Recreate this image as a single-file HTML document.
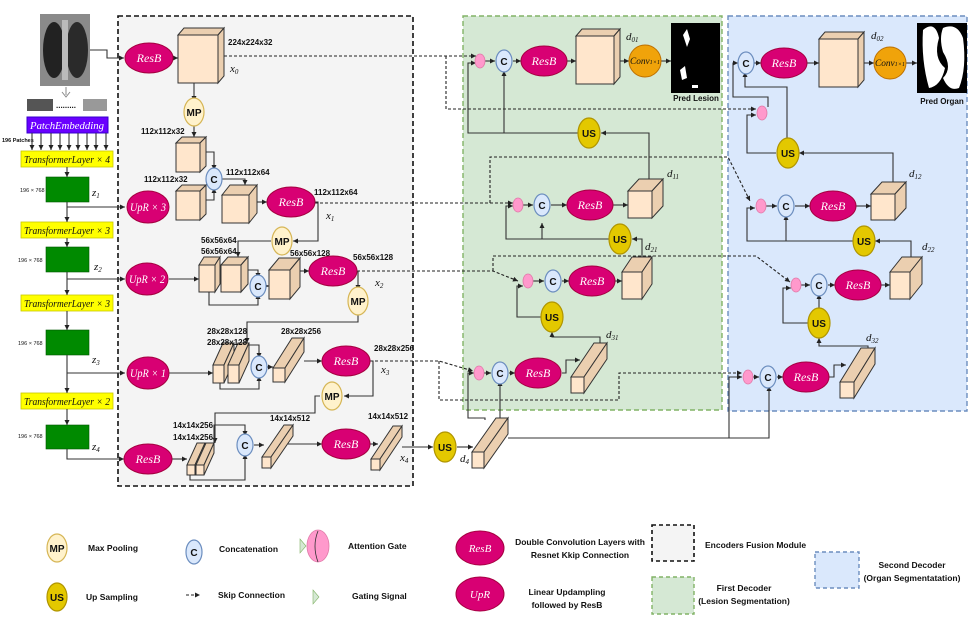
<!DOCTYPE html>
<html><head><meta charset="utf-8"><style>
body{margin:0;background:#fff}
svg{display:block}
.l{stroke:#333;stroke-width:1.1;fill:none;marker-end:url(#a)}
.n{stroke:#333;stroke-width:1.1;fill:none}
.d{stroke:#222;stroke-width:1.1;fill:none;stroke-dasharray:3,2;marker-end:url(#a)}
.rb{fill:#d80073;stroke:#a50040;stroke-width:1}
.mp{fill:#fff2cc;stroke:#d6b656;stroke-width:1.2}
.us{fill:#e3c800;stroke:#b09500;stroke-width:1.2}
.c{fill:#dae8fc;stroke:#6c8ebf;stroke-width:1.2}
.ag{fill:#ff99cc;stroke:#e07aa8;stroke-width:0.8}
.cf{fill:#ffe6cc;stroke:#333;stroke-width:1}
.cs{fill:#ebcfb0;stroke:#333;stroke-width:1}
.tm{font-family:"Liberation Serif",serif;font-style:italic;fill:#fff;font-size:12px}
.tb{font-family:"Liberation Sans",sans-serif;font-weight:bold;font-size:10px;fill:#111}
.ts{font-family:"Liberation Sans",sans-serif;font-weight:bold;font-size:8px;fill:#111}
.tl{font-family:"Liberation Sans",sans-serif;font-weight:bold;font-size:8.5px;fill:#111}
.tx{font-family:"Liberation Serif",serif;font-style:italic;font-size:10px;fill:#111}
.ty{font-family:"Liberation Serif",serif;font-style:italic;font-size:11px;fill:#111}
.g{fill:#008a00;stroke:#005700;stroke-width:0.6}
.yl{fill:#ffff00;stroke:#c8c800;stroke-width:0.8}
</style></head><body>
<svg width="969" height="637" viewBox="0 0 969 637" xmlns="http://www.w3.org/2000/svg">
<defs><marker id="a" markerWidth="6" markerHeight="6" refX="5" refY="3" orient="auto" markerUnits="userSpaceOnUse"><path d="M0,0.5 L5,3 L0,5.5z" fill="#222"/></marker></defs>

<rect x="118" y="16" width="295" height="470" fill="#f4f4f4" stroke="#111" stroke-width="1.6" stroke-dasharray="5,3"/>
<rect x="463" y="16" width="259" height="394" fill="#d5e8d4" stroke="#82b366" stroke-width="1.4" stroke-dasharray="5,3"/>
<rect x="728" y="16" width="239" height="395" fill="#dae8fc" stroke="#6c8ebf" stroke-width="1.4" stroke-dasharray="5,3"/>

<rect x="40" y="14" width="50" height="72" fill="#8a8a8a"/>
<ellipse cx="54" cy="50" rx="11" ry="28" fill="#222"/><ellipse cx="77" cy="50" rx="11" ry="28" fill="#2a2a2a"/>
<rect x="62" y="20" width="6" height="60" fill="#bbb"/>
<path d="M66,87 v8 M62,92 l4,5 l4,-5" stroke="#888" fill="none"/>
<rect x="27" y="99" width="26" height="12" fill="#555"/><rect x="83" y="99" width="24" height="12" fill="#999"/>
<text x="56" y="108" class="ts">.........</text>
<rect x="27" y="117" width="81" height="16" fill="#6a00ff" stroke="#3700cc"/>
<text x="67" y="129" text-anchor="middle" class="tm" style="font-size:11px" textLength="74" lengthAdjust="spacingAndGlyphs">PatchEmbedding</text>
<text x="2" y="142" class="ts" style="font-size:5.5px">196 Patches</text>
<g class="l"><path d="M32,133v17"/><path d="M41,133v17"/><path d="M51,133v17"/><path d="M60,133v17"/><path d="M69,133v17"/><path d="M78,133v17"/><path d="M87,133v17"/><path d="M96,133v17"/><path d="M106,133v17"/></g>
<rect x="21" y="151" width="92" height="16" class="yl"/><text x="67" y="163" text-anchor="middle" class="tx" textLength="86" lengthAdjust="spacingAndGlyphs">TransformerLayer × 4</text>
<rect x="21" y="222" width="92" height="16" class="yl"/><text x="67" y="234" text-anchor="middle" class="tx" textLength="86" lengthAdjust="spacingAndGlyphs">TransformerLayer × 3</text>
<rect x="21" y="295" width="92" height="16" class="yl"/><text x="67" y="307" text-anchor="middle" class="tx" textLength="86" lengthAdjust="spacingAndGlyphs">TransformerLayer × 3</text>
<rect x="21" y="393" width="92" height="16" class="yl"/><text x="67" y="405" text-anchor="middle" class="tx" textLength="86" lengthAdjust="spacingAndGlyphs">TransformerLayer × 2</text>
<rect x="46" y="177" width="43" height="25" class="g"/><rect x="46" y="247" width="43" height="25" class="g"/>
<rect x="46" y="330" width="43" height="25" class="g"/><rect x="46" y="425" width="43" height="24" class="g"/>
<g class="ts" style="font-size:5.5px;font-weight:normal"><text x="20" y="192">196 × 768</text><text x="18" y="262">196 × 768</text><text x="18" y="345">196 × 768</text><text x="18" y="438">196 × 768</text></g>
<g class="ty"><text x="92" y="196">z<tspan font-size="7" dy="2">1</tspan></text><text x="94" y="270">z<tspan font-size="7" dy="2">2</tspan></text><text x="92" y="363">z<tspan font-size="7" dy="2">3</tspan></text><text x="92" y="450">z<tspan font-size="7" dy="2">4</tspan></text></g>
<g class="l"><path d="M67,167v10"/><path d="M67,202v20"/><path d="M67,238v9"/><path d="M67,272v23"/><path d="M67,311v19"/><path d="M67,355v38"/><path d="M67,409v16"/>
<path d="M67,207h58"/><path d="M67,279h58"/><path d="M67,373h58"/><path d="M67,449v10h57"/></g>

<g class="l"><path d="M90,50h17v8h17"/><path d="M173,58h5"/><path d="M194,83v18"/><path d="M194,123v14"/>
<path d="M206,152h8v18"/><path d="M206,200h8v-12"/><path d="M222,179h23v6"/><path d="M257,202h10"/>
<path d="M315,202h3v39h-25"/><path d="M271,241h-33v16"/><path d="M169,279h30"/><path d="M248,270h10v8"/><path d="M209,292v13h49v-11"/>
<path d="M266,286h3"/><path d="M300,271h9"/><path d="M358,271v19"/><path d="M358,312v10h-111v21"/>
<path d="M169,373h44"/><path d="M249,345h10v13"/><path d="M220,383v6h39v-13"/><path d="M267,367h6"/><path d="M304,361h18"/>
<path d="M370,361h3v35h-29"/><path d="M320,396h-5v17h-100v30"/><path d="M172,459h15"/><path d="M214,443v-18h31v11"/><path d="M190,475v5h55v-26"/>
<path d="M254,445h10"/><path d="M288,444h34"/><path d="M370,444h8"/><path d="M402,447h31"/><path d="M457,447h16"/></g>

<g class="d"><path d="M224,56h252"/><path d="M446,56v53h310"/>
<path d="M315,203h198"/><path d="M490,203v-46h238l22,44"/>
<path d="M357,271h136l25,10"/><path d="M493,271v-15h263l34,26"/>
<path d="M370,361h69l34,10"/><path d="M439,361v39h180v-27h123"/></g>

<g class="l">
<path d="M485,420v-2h-17v-45h6"/><path d="M500,418v-37"/><path d="M508,438h221v-61h13"/><path d="M729,438h40v-52"/>
<path d="M484,373h7"/><path d="M509,373h6"/><path d="M562,373h4v-13h14"/>
<path d="M600,343v-6h-48v-5"/><path d="M552,306v-4"/><path d="M541,317h-24v-31h6"/>
<path d="M528,281h16"/><path d="M562,281h7"/><path d="M615,281h7"/>
<path d="M642,257v-18h-10"/><path d="M609,239h-103v-33h7"/><path d="M542,239v-16"/>
<path d="M523,205h10"/><path d="M551,205h16"/><path d="M613,205h15"/>
<path d="M649,180v-47h-48"/><path d="M578,133h-110v-70h8"/><path d="M504,133v-62"/>
<path d="M485,61h10"/><path d="M513,61h8"/><path d="M567,61h9"/><path d="M620,61h9"/><path d="M661,61h10"/>
<path d="M753,377h6"/><path d="M777,377h6"/><path d="M829,377h5v-12h12"/>
<path d="M868,348v-2h-49v-8"/><path d="M819,312v-18"/><path d="M808,323h-25v-35h8"/>
<path d="M801,285h9"/><path d="M828,285h7"/><path d="M881,285h9"/>
<path d="M911,257v-16h-36"/><path d="M853,241h-106v-33h8"/><path d="M786,241v-26"/>
<path d="M766,206h11"/><path d="M795,206h15"/><path d="M856,206h15"/>
<path d="M893,182v-29h-94"/><path d="M776,153h-29v-38h9"/><path d="M787,142v-55h-42v-15"/>
<path d="M768,107v-10h-35v-34h5"/>
<path d="M754,63h7"/><path d="M807,63h12"/><path d="M864,63h10"/><path d="M906,63h11"/></g>

<g>
<rect x="178" y="35" width="40" height="48" class="cf"/><polygon points="178,35 184,28 224,28 218,35" class="cs"/><polygon points="218,35 224,28 224,76 218,83" class="cs"/>
<rect x="176" y="143" width="24" height="29" class="cf"/><polygon points="176,143 182,137 206,137 200,143" class="cs"/><polygon points="200,143 206,137 206,166 200,172" class="cs"/>
<rect x="176" y="191" width="24" height="29" class="cf"/><polygon points="176,191 182,185 206,185 200,191" class="cs"/><polygon points="200,191 206,185 206,214 200,220" class="cs"/>
<rect x="222" y="195" width="27" height="28" class="cf"/><polygon points="222,195 230,185 257,185 249,195" class="cs"/><polygon points="249,195 257,185 257,213 249,223" class="cs"/>
<rect x="199" y="265" width="16" height="27" class="cf"/><polygon points="199,265 204,257 220,257 215,265" class="cs"/><polygon points="215,265 220,257 220,284 215,292" class="cs"/>
<rect x="221" y="265" width="20" height="27" class="cf"/><polygon points="221,265 228,257 248,257 241,265" class="cs"/><polygon points="241,265 248,257 248,284 241,292" class="cs"/>
<rect x="269" y="270" width="21" height="29" class="cf"/><polygon points="269,270 279,258 300,258 290,270" class="cs"/><polygon points="290,270 300,258 300,287 290,299" class="cs"/>
<rect x="213" y="365" width="11" height="18" class="cf"/><polygon points="213,365 223,343 234,343 224,365" class="cs"/><polygon points="224,365 234,343 234,361 224,383" class="cs"/>
<rect x="228" y="365" width="11" height="18" class="cf"/><polygon points="228,365 238,343 249,343 239,365" class="cs"/><polygon points="239,365 249,343 249,361 239,383" class="cs"/>
<rect x="273" y="368" width="12" height="14" class="cf"/><polygon points="273,368 292,338 304,338 285,368" class="cs"/><polygon points="285,368 304,338 304,352 285,382" class="cs"/>
<rect x="187" y="465" width="8" height="10" class="cf"/><polygon points="187,465 197,443 205,443 195,465" class="cs"/><polygon points="195,465 205,443 205,453 195,475" class="cs"/>
<rect x="196" y="465" width="8" height="10" class="cf"/><polygon points="196,465 206,443 214,443 204,465" class="cs"/><polygon points="204,465 214,443 214,453 204,475" class="cs"/>
<rect x="262" y="457" width="9" height="11" class="cf"/><polygon points="262,457 284,425 293,425 271,457" class="cs"/><polygon points="271,457 293,425 293,436 271,468" class="cs"/>
<rect x="371" y="459" width="9" height="11" class="cf"/><polygon points="371,459 393,426 402,426 380,459" class="cs"/><polygon points="380,459 402,426 402,437 380,470" class="cs"/>
<rect x="472" y="452" width="12" height="16" class="cf"/><polygon points="472,452 496,418 508,418 484,452" class="cs"/><polygon points="484,452 508,418 508,434 484,468" class="cs"/>
<rect x="576" y="36" width="38" height="48" class="cf"/><polygon points="576,36 582,29 620,29 614,36" class="cs"/><polygon points="614,36 620,29 620,77 614,84" class="cs"/>
<rect x="628" y="191" width="24" height="27" class="cf"/><polygon points="628,191 639,179 663,179 652,191" class="cs"/><polygon points="652,191 663,179 663,206 652,218" class="cs"/>
<rect x="622" y="272" width="20" height="27" class="cf"/><polygon points="622,272 632,257 652,257 642,272" class="cs"/><polygon points="642,272 652,257 652,284 642,299" class="cs"/>
<rect x="571" y="377" width="13" height="16" class="cf"/><polygon points="571,377 594,343 607,343 584,377" class="cs"/><polygon points="584,377 607,343 607,359 584,393" class="cs"/>
<rect x="819" y="39" width="39" height="48" class="cf"/><polygon points="819,39 825,32 864,32 858,39" class="cs"/><polygon points="858,39 864,32 864,80 858,87" class="cs"/>
<rect x="871" y="194" width="24" height="26" class="cf"/><polygon points="871,194 882,182 906,182 895,194" class="cs"/><polygon points="895,194 906,182 906,208 895,220" class="cs"/>
<rect x="890" y="272" width="20" height="27" class="cf"/><polygon points="890,272 902,257 922,257 910,272" class="cs"/><polygon points="910,272 922,257 922,284 910,299" class="cs"/>
<rect x="840" y="382" width="14" height="16" class="cf"/><polygon points="840,382 861,348 875,348 854,382" class="cs"/><polygon points="854,382 875,348 875,364 854,398" class="cs"/>
</g>

<g>
<ellipse cx="149" cy="58" rx="24" ry="15" class="rb"/><text x="149" y="62" text-anchor="middle" class="tm">ResB</text>
<ellipse cx="148" cy="207" rx="21" ry="16" class="rb"/><text x="148" y="211" text-anchor="middle" class="tm" textLength="36" lengthAdjust="spacingAndGlyphs">UpR × 3</text>
<ellipse cx="147" cy="279" rx="21" ry="16" class="rb"/><text x="147" y="283" text-anchor="middle" class="tm" textLength="36" lengthAdjust="spacingAndGlyphs">UpR × 2</text>
<ellipse cx="148" cy="373" rx="21" ry="16" class="rb"/><text x="148" y="377" text-anchor="middle" class="tm" textLength="36" lengthAdjust="spacingAndGlyphs">UpR × 1</text>
<ellipse cx="148" cy="459" rx="24" ry="15" class="rb"/><text x="148" y="463" text-anchor="middle" class="tm">ResB</text>
<ellipse cx="291" cy="202" rx="24" ry="15" class="rb"/><text x="291" y="206" text-anchor="middle" class="tm">ResB</text>
<ellipse cx="333" cy="271" rx="24" ry="15" class="rb"/><text x="333" y="275" text-anchor="middle" class="tm">ResB</text>
<ellipse cx="346" cy="361" rx="24" ry="15" class="rb"/><text x="346" y="365" text-anchor="middle" class="tm">ResB</text>
<ellipse cx="346" cy="444" rx="24" ry="15" class="rb"/><text x="346" y="448" text-anchor="middle" class="tm">ResB</text>
<ellipse cx="544" cy="61" rx="23" ry="15" class="rb"/><text x="544" y="65" text-anchor="middle" class="tm">ResB</text>
<ellipse cx="590" cy="205" rx="23" ry="15" class="rb"/><text x="590" y="209" text-anchor="middle" class="tm">ResB</text>
<ellipse cx="592" cy="281" rx="23" ry="15" class="rb"/><text x="592" y="285" text-anchor="middle" class="tm">ResB</text>
<ellipse cx="538" cy="373" rx="23" ry="15" class="rb"/><text x="538" y="377" text-anchor="middle" class="tm">ResB</text>
<ellipse cx="784" cy="63" rx="23" ry="15" class="rb"/><text x="784" y="67" text-anchor="middle" class="tm">ResB</text>
<ellipse cx="833" cy="206" rx="23" ry="15" class="rb"/><text x="833" y="210" text-anchor="middle" class="tm">ResB</text>
<ellipse cx="858" cy="285" rx="23" ry="15" class="rb"/><text x="858" y="289" text-anchor="middle" class="tm">ResB</text>
<ellipse cx="806" cy="377" rx="23" ry="15" class="rb"/><text x="806" y="381" text-anchor="middle" class="tm">ResB</text>
</g>

<g class="tb" text-anchor="middle">
<ellipse cx="194" cy="112" rx="10" ry="14" class="mp"/><text x="194" y="116">MP</text>
<ellipse cx="282" cy="241" rx="10" ry="14" class="mp"/><text x="282" y="245">MP</text>
<ellipse cx="358" cy="301" rx="10" ry="14" class="mp"/><text x="358" y="305">MP</text>
<ellipse cx="332" cy="396" rx="10" ry="14" class="mp"/><text x="332" y="400">MP</text>
<ellipse cx="445" cy="447" rx="11" ry="15" class="us"/><text x="445" y="451">US</text>
<ellipse cx="589" cy="133" rx="11" ry="15" class="us"/><text x="589" y="137">US</text>
<ellipse cx="620" cy="239" rx="11" ry="15" class="us"/><text x="620" y="243">US</text>
<ellipse cx="552" cy="317" rx="11" ry="15" class="us"/><text x="552" y="321">US</text>
<ellipse cx="788" cy="153" rx="11" ry="15" class="us"/><text x="788" y="157">US</text>
<ellipse cx="864" cy="241" rx="11" ry="15" class="us"/><text x="864" y="245">US</text>
<ellipse cx="819" cy="323" rx="11" ry="15" class="us"/><text x="819" y="327">US</text>
<ellipse cx="214" cy="179" rx="8" ry="11" class="c"/><text x="214" y="183">C</text>
<ellipse cx="258" cy="286" rx="8" ry="11" class="c"/><text x="258" y="290">C</text>
<ellipse cx="259" cy="367" rx="8" ry="11" class="c"/><text x="259" y="371">C</text>
<ellipse cx="245" cy="445" rx="8" ry="11" class="c"/><text x="245" y="449">C</text>
<ellipse cx="504" cy="61" rx="8" ry="11" class="c"/><text x="504" y="65">C</text>
<ellipse cx="542" cy="205" rx="8" ry="11" class="c"/><text x="542" y="209">C</text>
<ellipse cx="553" cy="281" rx="8" ry="11" class="c"/><text x="553" y="285">C</text>
<ellipse cx="500" cy="373" rx="8" ry="11" class="c"/><text x="500" y="377">C</text>
<ellipse cx="746" cy="63" rx="8" ry="11" class="c"/><text x="746" y="67">C</text>
<ellipse cx="786" cy="206" rx="8" ry="11" class="c"/><text x="786" y="210">C</text>
<ellipse cx="819" cy="285" rx="8" ry="11" class="c"/><text x="819" y="289">C</text>
<ellipse cx="768" cy="377" rx="8" ry="11" class="c"/><text x="768" y="381">C</text>
</g>
<g class="ag"><ellipse cx="480" cy="61" rx="5" ry="7"/><ellipse cx="518" cy="205" rx="5" ry="7"/><ellipse cx="528" cy="281" rx="5" ry="7"/><ellipse cx="479" cy="373" rx="5" ry="7"/>
<ellipse cx="762" cy="113" rx="5" ry="7"/><ellipse cx="761" cy="206" rx="5" ry="7"/><ellipse cx="796" cy="285" rx="5" ry="7"/><ellipse cx="748" cy="377" rx="5" ry="7"/></g>

<ellipse cx="645" cy="61" rx="16" ry="16" fill="#f0a30a" stroke="#bd7000"/><text x="645" y="64" text-anchor="middle" class="ty" style="font-size:9px" textLength="30" lengthAdjust="spacingAndGlyphs">Conv<tspan font-size="6">1×1</tspan></text>
<ellipse cx="890" cy="63" rx="16" ry="16" fill="#f0a30a" stroke="#bd7000"/><text x="890" y="66" text-anchor="middle" class="ty" style="font-size:9px" textLength="30" lengthAdjust="spacingAndGlyphs">Conv<tspan font-size="6">1×1</tspan></text>
<rect x="671" y="23" width="49" height="70" fill="#000"/>
<path d="M683,35 l4,-6 l3,10 l-3,8 z M680,70 l5,-4 l2,12 l-5,2z M692,85 l6,0 l0,3 l-6,0z" fill="#fff"/>
<text x="696" y="101" text-anchor="middle" class="ts">Pred Lesion</text>
<rect x="917" y="23" width="50" height="70" fill="#000"/>
<path d="M923,30 q12,-10 16,8 q-6,20 6,30 q-4,18 -16,20 q-8,-28 -6,-58z M943,28 q14,-6 20,10 q4,30 -4,50 q-10,4 -16,-10 q10,-10 0,-26 q-4,-14 0,-24z" fill="#fff"/>
<text x="942" y="104" text-anchor="middle" class="ts">Pred Organ</text>

<g class="ts">
<text x="228" y="45">224x224x32</text>
<text x="141" y="134">112x112x32</text><text x="144" y="182">112x112x32</text><text x="226" y="175">112x112x64</text><text x="314" y="195">112x112x64</text>
<text x="201" y="243">56x56x64</text><text x="201" y="254">56x56x64</text><text x="290" y="256">56x56x128</text><text x="353" y="260">56x56x128</text>
<text x="207" y="334">28x28x128</text><text x="207" y="345">28x28x128</text><text x="281" y="334">28x28x256</text><text x="374" y="351">28x28x256</text>
<text x="173" y="428">14x14x256</text><text x="173" y="440">14x14x256</text><text x="270" y="421">14x14x512</text><text x="368" y="419">14x14x512</text>
</g>
<g class="ty">
<text x="230" y="72">x<tspan font-size="7" dy="2">0</tspan></text><text x="326" y="219">x<tspan font-size="7" dy="2">1</tspan></text>
<text x="375" y="286">x<tspan font-size="7" dy="2">2</tspan></text><text x="381" y="373">x<tspan font-size="7" dy="2">3</tspan></text><text x="400" y="461">x<tspan font-size="7" dy="2">4</tspan></text>
<text x="460" y="462">d<tspan font-size="7" dy="2">4</tspan></text>
<text x="626" y="40">d<tspan font-size="7" dy="2">01</tspan></text><text x="667" y="177">d<tspan font-size="7" dy="2">11</tspan></text>
<text x="645" y="250">d<tspan font-size="7" dy="2">21</tspan></text><text x="606" y="338">d<tspan font-size="7" dy="2">31</tspan></text>
<text x="871" y="39">d<tspan font-size="7" dy="2">02</tspan></text><text x="909" y="177">d<tspan font-size="7" dy="2">12</tspan></text>
<text x="922" y="250">d<tspan font-size="7" dy="2">22</tspan></text><text x="866" y="341">d<tspan font-size="7" dy="2">32</tspan></text>
</g>

<g class="tb" text-anchor="middle">
<ellipse cx="57" cy="548" rx="10" ry="14" class="mp"/><text x="57" y="552">MP</text>
<ellipse cx="57" cy="597" rx="10" ry="14" class="us"/><text x="57" y="601">US</text>
<ellipse cx="194" cy="552" rx="8" ry="12" class="c"/><text x="194" y="556">C</text>
</g>
<ellipse cx="318" cy="546" rx="11" ry="16" class="ag"/><path d="M318,531 q-6,15 0,31" stroke="#333" fill="none" stroke-width="0.8"/>
<polygon points="300,539 306,546 300,553" fill="#d5e8d4" stroke="#82b366" stroke-width="0.6"/>
<polygon points="313,590 319,597 313,604" fill="#d5e8d4" stroke="#82b366" stroke-width="0.6"/>
<path d="M186,595h14" class="d"/>
<ellipse cx="480" cy="548" rx="24" ry="17" class="rb"/><text x="480" y="552" text-anchor="middle" class="tm" style="font-size:11px">ResB</text>
<ellipse cx="480" cy="594" rx="24" ry="17" class="rb"/><text x="480" y="598" text-anchor="middle" class="tm" style="font-size:11px">UpR</text>
<rect x="652" y="525" width="42" height="36" fill="#f4f4f4" stroke="#111" stroke-width="1.6" stroke-dasharray="4,3"/>
<rect x="652" y="577" width="42" height="37" fill="#d5e8d4" stroke="#82b366" stroke-width="1.4" stroke-dasharray="4,3"/>
<rect x="815" y="552" width="44" height="36" fill="#dae8fc" stroke="#6c8ebf" stroke-width="1.4" stroke-dasharray="4,3"/>
<g class="tl">
<text x="88" y="551">Max Pooling</text><text x="86" y="600">Up Sampling</text>
<text x="219" y="552">Concatenation</text><text x="218" y="598">Skip Connection</text>
<text x="348" y="549">Attention Gate</text><text x="352" y="599">Gating Signal</text>
<text x="580" y="545" text-anchor="middle">Double Convolution Layers with</text><text x="580" y="558" text-anchor="middle">Resnet Kkip Connection</text>
<text x="567" y="595" text-anchor="middle">Linear Updampling</text><text x="567" y="608" text-anchor="middle">followed by ResB</text>
<text x="705" y="548">Encoders Fusion Module</text>
<text x="744" y="591" text-anchor="middle">First Decoder</text><text x="744" y="604" text-anchor="middle">(Lesion Segmentation)</text>
<text x="912" y="568" text-anchor="middle">Second Decoder</text><text x="912" y="581" text-anchor="middle">(Organ Segmentatation)</text>
</g>
</svg>
</body></html>
